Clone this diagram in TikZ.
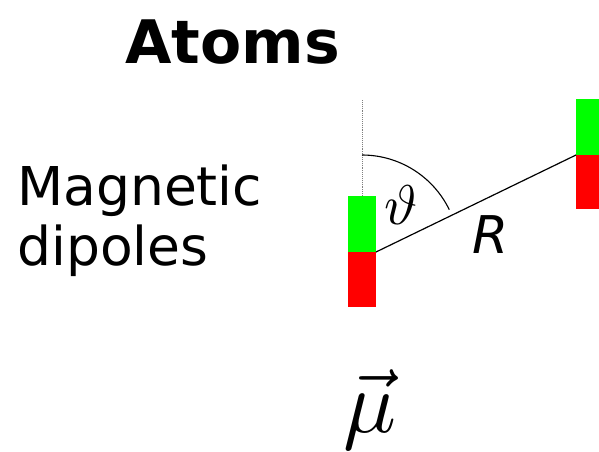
\documentclass[tikz,border=0pt]{standalone}
\usepackage{fontspec}
\setmainfont{DejaVu Sans}
\definecolor{mgreen}{RGB}{0,255,0}
\definecolor{mred}{RGB}{255,0,0}
\begin{document}
\begin{tikzpicture}[x=1pt,y=-1pt,
  pole/.style={draw=none,inner sep=0pt,outer sep=0pt,anchor=north west},
  lbl/.style={inner sep=0pt,anchor=base},
  conn/.style={line width=1.2pt,black}]
\useasboundingbox (0,0) rectangle (599,451);
% magnets
\node[pole,fill=mgreen,minimum width=28pt,minimum height=56pt] (lg) at (348,196) {};
\node[pole,fill=mred,minimum width=28pt,minimum height=55pt] (lr) at (348,252) {};
\node[pole,fill=mgreen,minimum width=23pt,minimum height=56pt] (rg) at (576,99) {};
\node[pole,fill=mred,minimum width=23pt,minimum height=54pt] (rr) at (576,155) {};
% dotted axis
\coordinate (ax) at (362,100);
\draw[densely dotted,gray,line width=0.9pt] (ax) -- (lg.north);
% connecting line
\draw[conn] (lr.north east) -- (rr.north west);
% angle arc
\coordinate (arcs) at (362,155);
\draw[line width=1.1pt] (arcs) arc[start angle=-90,end angle=-25.9,radius=97];
% labels
\node[lbl,font=\fontsize{60}{62}\selectfont\bfseries] (title) at (232.5,63) {Atoms};
\node[lbl,anchor=base west,font=\fontsize{53.5}{60}\selectfont] (mag) at (17,205) {Magnetic};
\node[lbl,anchor=base west,font=\fontsize{53.5}{60}\selectfont] (dip) at (17,265) {dipoles};
\node[lbl,font=\fontsize{52}{60}\selectfont\itshape] (R) at (491,253) {R};
\node[scale=5.6,inner sep=0pt] (th) at (401,205) {$\vartheta$};
\node[scale=8.8,inner sep=0pt,anchor=base] (mu) at (370,432) {$\vec{\mu}$};
\end{tikzpicture}
\end{document}
